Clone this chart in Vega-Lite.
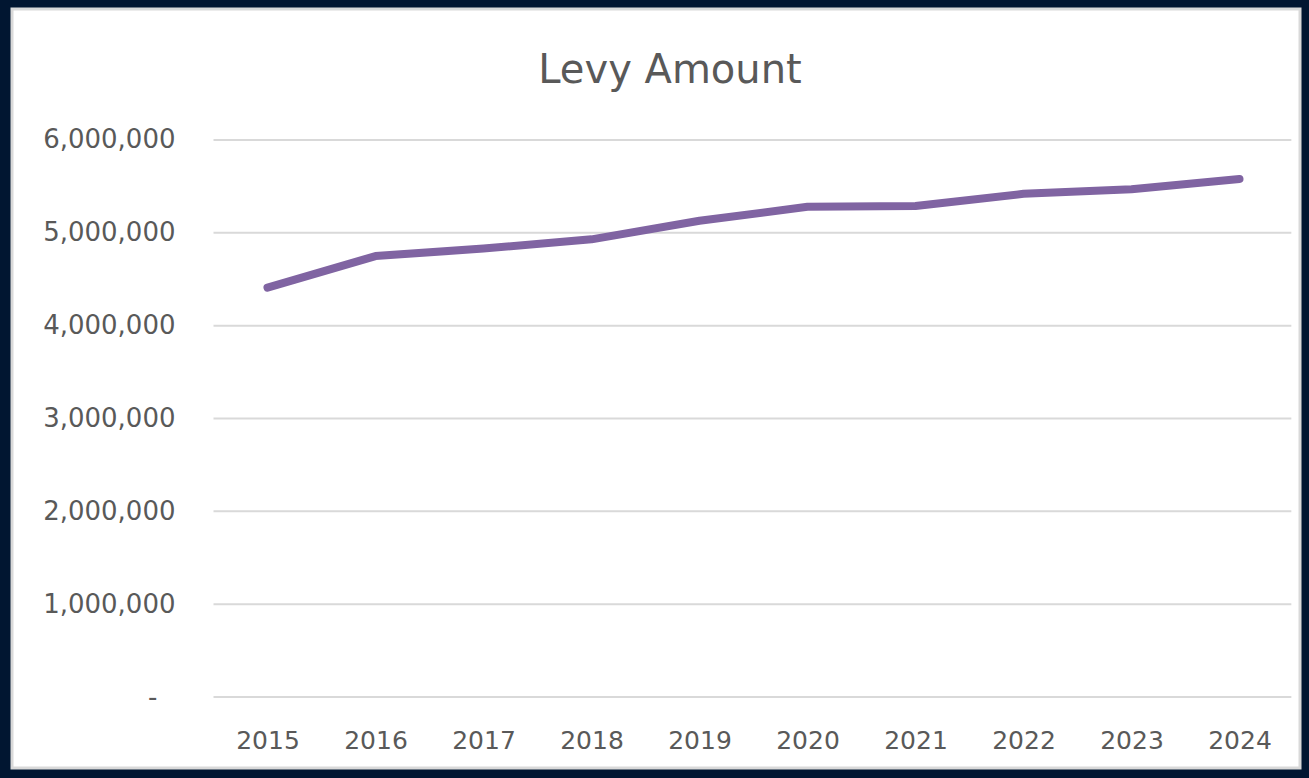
{
  "$schema": "https://vega.github.io/schema/vega-lite/v6.json",
  "width": 1288,
  "height": 759,
  "autosize": {"type": "none"},
  "padding": {"left": 12, "top": 9, "right": 9, "bottom": 10},
  "background": "#011631",
  "config": {
    "view": {"fill": "white", "stroke": "#d9d9d9", "strokeWidth": 3},
    "font": "DejaVu Sans",
    "axis": {
      "title": null, "domain": false, "ticks": false, "tickSize": 0, "grid": false,
      "labelColor": "#595959", "labelFont": "DejaVu Sans",
      "labelFlush": false, "labelOverlap": false
    }
  },
  "title": {
    "text": "Levy Amount",
    "fontSize": 40,
    "fontWeight": "normal",
    "color": "#595959",
    "font": "DejaVu Sans",
    "anchor": "middle",
    "baseline": "alphabetic",
    "dx": 14,
    "offset": -114
  },
  "datasets": {
    "grid": [
      {"amount": 0}, {"amount": 1000000}, {"amount": 2000000}, {"amount": 3000000},
      {"amount": 4000000}, {"amount": 5000000}, {"amount": 6000000}
    ],
    "levy": [
      {"year": 2015, "amount": 4410000},
      {"year": 2016, "amount": 4750000},
      {"year": 2017, "amount": 4830000},
      {"year": 2018, "amount": 4930000},
      {"year": 2019, "amount": 5130000},
      {"year": 2020, "amount": 5280000},
      {"year": 2021, "amount": 5290000},
      {"year": 2022, "amount": 5420000},
      {"year": 2023, "amount": 5470000},
      {"year": 2024, "amount": 5580000}
    ]
  },
  "layer": [
    {
      "data": {"name": "grid"},
      "mark": {"type": "rule", "color": "#d9d9d9", "strokeWidth": 2},
      "encoding": {
        "x": {"datum": 2014.5, "type": "quantitative"},
        "x2": {"datum": 2024.48},
        "y": {"field": "amount", "type": "quantitative"}
      }
    },
    {
      "data": {"name": "levy"},
      "mark": {"type": "line", "color": "#8064a2", "strokeWidth": 8, "strokeCap": "round", "strokeJoin": "round"},
      "encoding": {
        "x": {
          "field": "year", "type": "quantitative",
          "scale": {"domain": [2012.6343, 2024.5602], "nice": false, "zero": false},
          "axis": {
            "values": [2015, 2016, 2017, 2018, 2019, 2020, 2021, 2022, 2023, 2024],
            "format": "d", "labelFontSize": 25, "labelPadding": 31, "offset": -71
          }
        },
        "y": {
          "field": "amount", "type": "quantitative",
          "scale": {"domain": [-764800, 7411100], "nice": false, "zero": false},
          "axis": {
            "values": [0, 1000000, 2000000, 3000000, 4000000, 5000000, 6000000],
            "labelExpr": "datum.value == 0 ? '-' : format(datum.value, ',')",
            "labelFontSize": 26,
            "labelPadding": {"condition": {"test": "datum.value == 0", "value": 18}, "value": 0},
            "offset": -163
          }
        }
      }
    }
  ]
}
